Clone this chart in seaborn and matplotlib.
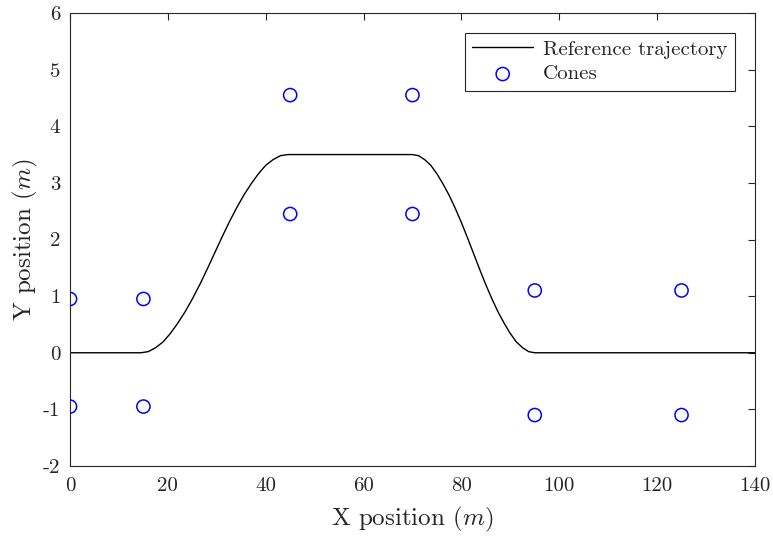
import numpy as np
import pandas as pd
import seaborn as sns
import matplotlib.pyplot as plt

# Reference trajectory
traj_x = [0, 14.5, 16, 17.5, 19, 20.5, 22, 23.5, 25, 26.5, 28, 29.5, 31, 32.5, 34, 35.5, 37,
          38.5, 40, 41.5, 43, 44.5, 46,
          70, 71.25, 72.5, 73.75, 75, 76.25, 77.5, 78.75, 80, 81.25, 82.5, 83.75, 85, 86.25,
          87.5, 88.75, 90, 91.25, 92.5, 93.75, 95, 140]
traj_y = [0, 0, 0.02, 0.09, 0.19, 0.34, 0.52, 0.72, 0.95, 1.2, 1.47, 1.75, 2.03, 2.3, 2.55,
          2.78, 2.98, 3.16, 3.31, 3.41, 3.48, 3.5, 3.5,
          3.5, 3.48, 3.41, 3.31, 3.16, 2.98, 2.78, 2.55, 2.3, 2.03, 1.75, 1.47, 1.2, 0.95,
          0.72, 0.52, 0.34, 0.19, 0.09, 0.02, 0, 0]

# Cone positions
cone_x = [0, 0, 15, 15, 45, 45, 70, 70, 95, 95, 125, 125]
cone_y = [0.95, -0.95, 0.95, -0.95, 4.55, 2.45, 4.55, 2.45, 1.1, -1.1, 1.1, -1.1]

traj = pd.DataFrame({'x': traj_x, 'y': traj_y})
cones = pd.DataFrame({'x': cone_x, 'y': cone_y})

sns.set_theme(style='white')
plt.rcParams['font.family'] = ['cmr10', 'DejaVu Serif']
plt.rcParams['mathtext.fontset'] = 'cm'
plt.rcParams['axes.unicode_minus'] = False
plt.rcParams['axes.formatter.use_mathtext'] = True

fig = plt.figure(figsize=(7.73, 5.39), dpi=100)
ax = fig.add_axes([0.0906, 0.1354, 0.886, 0.8405])

sns.lineplot(data=traj, x='x', y='y', ax=ax, color='black', linewidth=1.0,
             label='Reference trajectory', sort=False)
sns.scatterplot(data=cones, x='x', y='y', ax=ax, marker='o', s=90,
                facecolors='none', edgecolor='blue', linewidth=1.1, label='Cones', zorder=3)

ax.set_xlim(0, 140)
ax.set_ylim(-2, 6)
ax.set_xticks(np.arange(0, 141, 20))
ax.set_yticks(np.arange(-2, 7, 1))
ax.set_xticklabels([str(v) for v in range(0, 141, 20)])
ax.set_yticklabels([str(v) for v in range(-2, 7)])
ax.set_xlabel('X position ($m$)', fontsize=18, labelpad=7)
ax.set_ylabel('Y position ($m$)', fontsize=18, labelpad=2)

for sp in ax.spines.values():
    sp.set_color('#262626')
    sp.set_linewidth(0.8)
ax.tick_params(direction='in', length=5, width=0.8, colors='#262626', labelsize=15,
               top=True, right=True, labelcolor='#262626')
ax.tick_params(axis='x', pad=8)
ax.tick_params(axis='y', pad=7)

leg = ax.legend(loc='upper right', fontsize=15, frameon=True, fancybox=False,
                edgecolor='#262626', framealpha=1, handlelength=2.9, borderpad=0.35,
                labelspacing=0.3, handletextpad=0.5, borderaxespad=0.95)
leg.get_frame().set_linewidth(0.8)

fig.savefig('out.png', dpi=100)
